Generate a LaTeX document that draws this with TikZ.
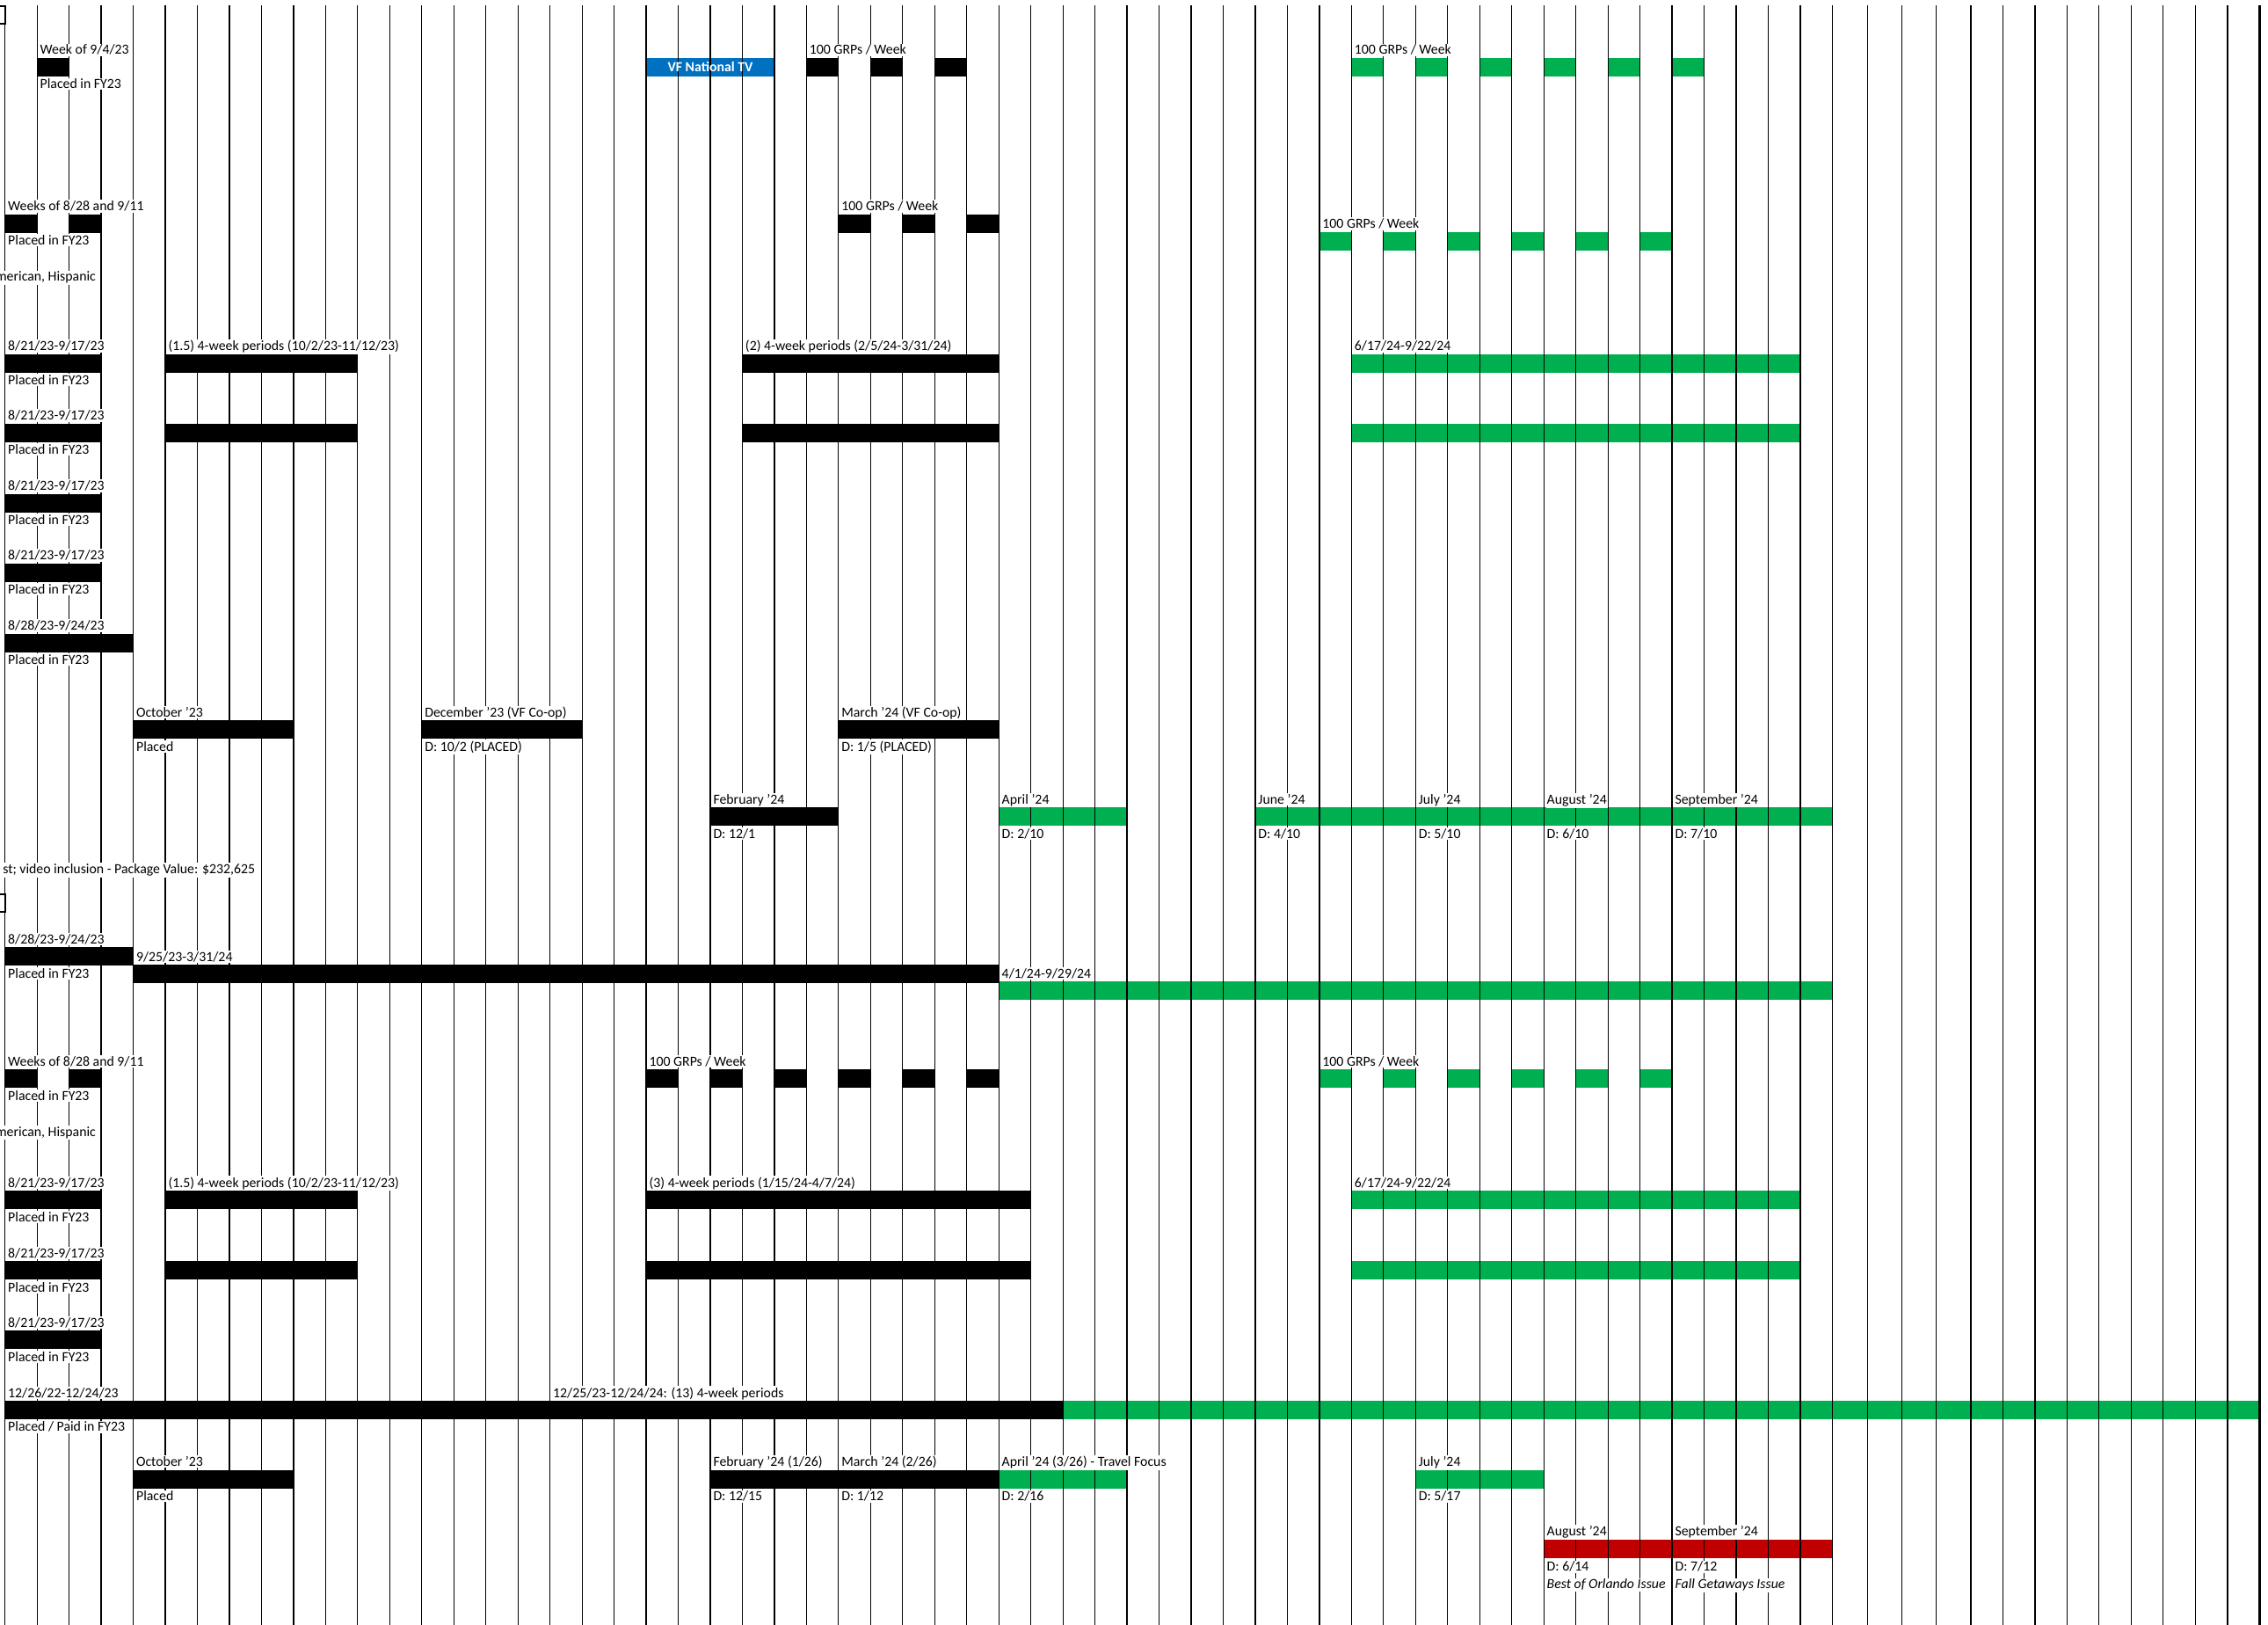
\documentclass[tikz,border=0pt]{standalone}
\usepackage{fontspec}
\setmainfont{Carlito}
\definecolor{tvblue}{HTML}{0070C0}
\definecolor{buygreen}{HTML}{00B050}
\definecolor{printred}{HTML}{C00000}
\newcommand{\flight}[4][black]{\fill[#1] (#2,#4) rectangle (#3,#4+21);}
\begin{document}
\begin{tikzpicture}[x=0.3647cm, y=-0.01cm,
    lbl/.style={anchor=base west, fill=white, inner xsep=0.3pt, inner ysep=0.4pt, xshift=0.5pt, font=\fontsize{4.5}{5.4}\selectfont},
    cut/.style={lbl, anchor=base east, xshift=0pt}]
    \useasboundingbox (-0.156,0) rectangle (70.59,1849);
    \flight{1}{2}{66}
    \flight[tvblue]{20}{24}{66}
    \foreach \a in {25,27,29} {\flight{\a}{\a+1}{66}}
    \foreach \a in {42,44,...,52} {\flight[buygreen]{\a}{\a+1}{66}}
    \flight{0}{1}{244}
    \flight{2}{3}{244}
    \foreach \a in {26,28,30} {\flight{\a}{\a+1}{244}}
    \foreach \a in {41,43,...,51} {\flight[buygreen]{\a}{\a+1}{264}}
    \foreach \r in {403,482} {
      \flight{0}{3}{\r}
      \flight{5}{11}{\r}
      \flight{23}{31}{\r}
      \flight[buygreen]{42}{56}{\r}
    }
    \flight{0}{3}{562}
    \flight{0}{3}{641}
    \flight{0}{4}{721}
    \flight{4}{9}{820}
    \flight{13}{18}{820}
    \flight{26}{31}{820}
    \flight{22}{26}{919}
    \flight[buygreen]{31}{35}{919}
    \flight[buygreen]{39}{57}{919}
    \flight{0}{4}{1078}
    \flight{4}{31}{1098}
    \flight[buygreen]{31}{57}{1117}
    \flight{0}{1}{1217}
    \flight{2}{3}{1217}
    \foreach \a in {20,22,...,30} {\flight{\a}{\a+1}{1217}}
    \foreach \a in {41,43,...,51} {\flight[buygreen]{\a}{\a+1}{1217}}
    \foreach \r in {1355,1435} {
      \flight{0}{3}{\r}
      \flight{5}{11}{\r}
      \flight{20}{32}{\r}
      \flight[buygreen]{42}{56}{\r}
    }
    \flight{0}{3}{1514}
    \flight{0}{33}{1594}
    \flight[buygreen]{33}{70.33}{1594}
    \flight{4}{9}{1673}
    \flight{22}{31}{1673}
    \flight[buygreen]{31}{35}{1673}
    \flight[buygreen]{44}{48}{1673}
    \flight[printred]{48}{57}{1752}
    \foreach \i in {0,...,57,58.10,59.17,60.24,61.32,62.32,63.32,64.32,65.32,66.32,67.32,68.32,69.33}
      \draw[line width=0.35pt] (\i,6) -- (\i,1849);
    \draw[line width=0.7pt] (70.33,6) -- (70.33,1849);
    \draw[line width=0.6pt] (-0.156,7) -- (0,7) -- (0,27) -- (-0.156,27);
    \draw[line width=0.6pt] (-0.156,1018) -- (0,1018) -- (0,1038) -- (-0.156,1038);
    \node[lbl] (a1) at (1,62) {Week of 9/4/23};
    \node[lbl] (a2) at (1,101) {Placed in FY23};
    \node[font=\fontsize{4.5}{5.4}\selectfont\bfseries, text=white] (a3) at (22,76.5) {VF National TV};
    \node[lbl] (a4) at (25,62) {100 GRPs / Week};
    \node[lbl] (a5) at (42,62) {100 GRPs / Week};
    \node[lbl] (b1) at (0,240) {Weeks of 8/28 and 9/11};
    \node[lbl] (b2) at (0,279) {Placed in FY23};
    \node[cut] (b3) at (2.83,320) {merican, Hispanic};
    \node[lbl] (b4) at (26,240) {100 GRPs / Week};
    \node[lbl] (b5) at (41,260) {100 GRPs / Week};
    \node[lbl] (c1) at (0,399) {8/21/23-9/17/23};
    \node[lbl] (c2) at (0,438) {Placed in FY23};
    \node[lbl] (c3) at (5,399) {(1.5) 4-week periods (10/2/23-11/12/23)};
    \node[lbl] (c4) at (23,399) {(2) 4-week periods (2/5/24-3/31/24)};
    \node[lbl] (c5) at (42,399) {6/17/24-9/22/24};
    \node[lbl] (d1) at (0,478) {8/21/23-9/17/23};
    \node[lbl] (d2) at (0,517) {Placed in FY23};
    \node[lbl] (e1) at (0,558) {8/21/23-9/17/23};
    \node[lbl] (e2) at (0,597) {Placed in FY23};
    \node[lbl] (f1) at (0,637) {8/21/23-9/17/23};
    \node[lbl] (f2) at (0,676) {Placed in FY23};
    \node[lbl] (g1) at (0,717) {8/28/23-9/24/23};
    \node[lbl] (g2) at (0,756) {Placed in FY23};
    \node[lbl] (h1) at (4,816) {October '23};
    \node[lbl] (h2) at (4,855) {Placed};
    \node[lbl] (h3) at (13,816) {December '23 (VF Co-op)};
    \node[lbl] (h4) at (13,855) {D: 10/2 (PLACED)};
    \node[lbl] (h5) at (26,816) {March '24 (VF Co-op)};
    \node[lbl] (h6) at (26,855) {D: 1/5 (PLACED)};
    \node[lbl] (i1) at (22,915) {February '24};
    \node[lbl] (i2) at (22,954) {D: 12/1};
    \node[lbl] (i3) at (31,915) {April '24};
    \node[lbl] (i4) at (31,954) {D: 2/10};
    \node[lbl] (i5) at (39,915) {June '24};
    \node[lbl] (i6) at (39,954) {D: 4/10};
    \node[lbl] (i7) at (44,915) {July '24};
    \node[lbl] (i8) at (44,954) {D: 5/10};
    \node[lbl] (i9) at (48,915) {August '24};
    \node[lbl] (i10) at (48,954) {D: 6/10};
    \node[lbl] (i11) at (52,915) {September '24};
    \node[lbl] (i12) at (52,954) {D: 7/10};
    \node[cut] (v1) at (7.80,994) {st; video inclusion - Package Value: \$232,625};
    \node[lbl] (j1) at (0,1074) {8/28/23-9/24/23};
    \node[lbl] (j2) at (0,1113) {Placed in FY23};
    \node[lbl] (j3) at (4,1094) {9/25/23-3/31/24};
    \node[lbl] (j4) at (31,1113) {4/1/24-9/29/24};
    \node[lbl] (k1) at (0,1213) {Weeks of 8/28 and 9/11};
    \node[lbl] (k2) at (0,1252) {Placed in FY23};
    \node[cut] (k3) at (2.83,1293) {merican, Hispanic};
    \node[lbl] (k4) at (20,1213) {100 GRPs / Week};
    \node[lbl] (k5) at (41,1213) {100 GRPs / Week};
    \node[lbl] (l1) at (0,1351) {8/21/23-9/17/23};
    \node[lbl] (l2) at (0,1390) {Placed in FY23};
    \node[lbl] (l3) at (5,1351) {(1.5) 4-week periods (10/2/23-11/12/23)};
    \node[lbl] (l4) at (20,1351) {(3) 4-week periods (1/15/24-4/7/24)};
    \node[lbl] (l5) at (42,1351) {6/17/24-9/22/24};
    \node[lbl] (m1) at (0,1431) {8/21/23-9/17/23};
    \node[lbl] (m2) at (0,1470) {Placed in FY23};
    \node[lbl] (n1) at (0,1510) {8/21/23-9/17/23};
    \node[lbl] (n2) at (0,1549) {Placed in FY23};
    \node[lbl] (o1) at (0,1590) {12/26/22-12/24/23};
    \node[lbl] (o2) at (0,1629) {Placed / Paid in FY23};
    \node[lbl] (o3) at (17,1590) {12/25/23-12/24/24: (13) 4-week periods};
    \node[lbl] (p1) at (4,1669) {October '23};
    \node[lbl] (p2) at (4,1708) {Placed};
    \node[lbl] (p3) at (22,1669) {February '24 (1/26)};
    \node[lbl] (p4) at (22,1708) {D: 12/15};
    \node[lbl] (p5) at (26,1669) {March '24 (2/26)};
    \node[lbl] (p6) at (26,1708) {D: 1/12};
    \node[lbl] (p7) at (31,1669) {April '24 (3/26) - Travel Focus};
    \node[lbl] (p8) at (31,1708) {D: 2/16};
    \node[lbl] (p9) at (44,1669) {July '24};
    \node[lbl] (p10) at (44,1708) {D: 5/17};
    \node[lbl] (q1) at (48,1748) {August '24};
    \node[lbl] (q2) at (48,1788) {D: 6/14};
    \node[lbl, font=\fontsize{4.5}{5.4}\selectfont\itshape] (q3) at (48,1808) {Best of Orlando Issue};
    \node[lbl] (q4) at (52,1748) {September '24};
    \node[lbl] (q5) at (52,1788) {D: 7/12};
    \node[lbl, font=\fontsize{4.5}{5.4}\selectfont\itshape] (q6) at (52,1808) {Fall Getaways Issue};
\end{tikzpicture}
\end{document}
